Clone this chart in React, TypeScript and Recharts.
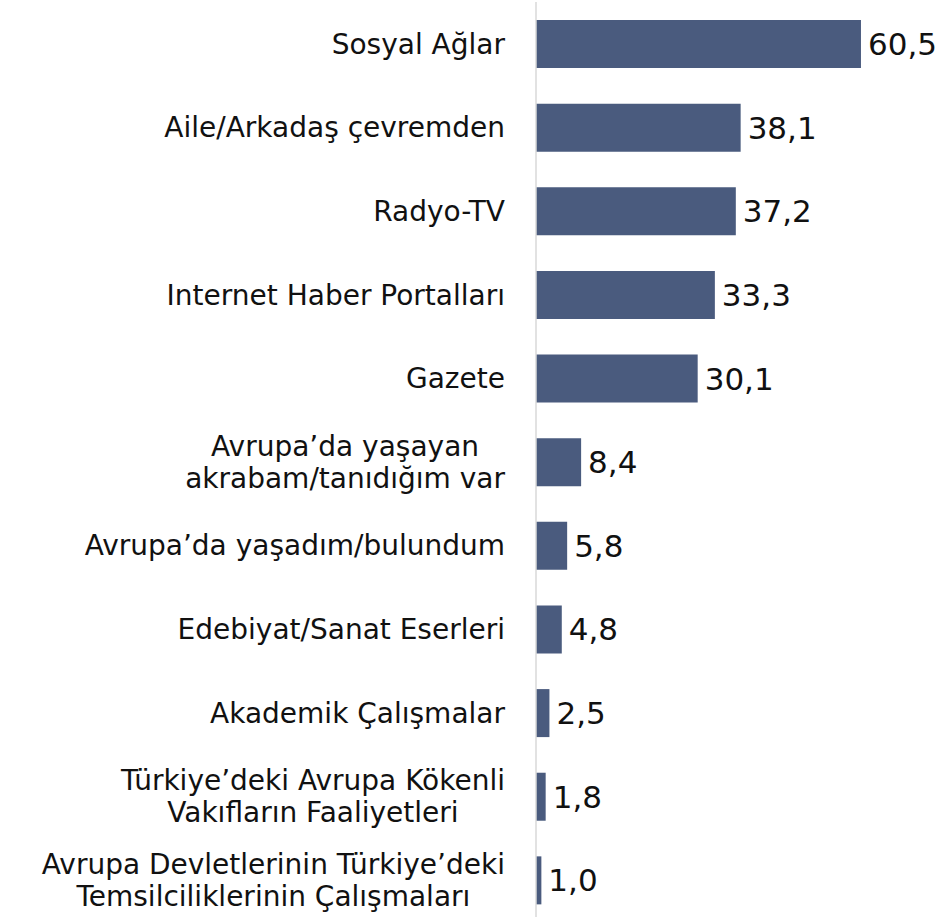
import React from "react";
import { BarChart, Bar, XAxis, YAxis, LabelList } from "recharts";

const CATEGORIES = [
  "Sosyal Ağlar",
  "Aile/Arkadaş çevremden",
  "Radyo-TV",
  "Internet Haber Portalları",
  "Gazete",
  "Avrupa’da yaşayan\nakrabam/tanıdığım var",
  "Avrupa’da yaşadım/bulundum",
  "Edebiyat/Sanat Eserleri",
  "Akademik Çalışmalar",
  "Türkiye’deki Avrupa Kökenli\nVakıfların Faaliyetleri",
  "Avrupa Devletlerinin Türkiye’deki\nTemsilciliklerinin Çalışmaları",
];

const VALUES = [60.5, 38.1, 37.2, 33.3, 30.1, 8.4, 5.8, 4.8, 2.5, 1.8, 1.0];

const data = CATEGORIES.map((name, i) => ({ name, value: VALUES[i] }));

const FONT = "'DejaVu Sans', Verdana, sans-serif";
const LABEL_SIZE = 28;
const VALUE_SIZE = 31;

let ctx: CanvasRenderingContext2D | null = null;
function measure(text: string) {
  if (!ctx) {
    const c = document.createElement("canvas");
    ctx = c.getContext("2d");
  }
  if (!ctx) return text.length * 16;
  ctx.font = `${LABEL_SIZE}px ${FONT}`;
  return ctx.measureText(text).width;
}

// multi-line labels: block right-aligned to the axis, lines centred in it
function CategoryTick({ x, y, payload }: any) {
  const lines: string[] = String(payload.value).split("\n");
  const maxW = Math.max(...lines.map(measure));
  const right = x - 23;
  const cx = right - maxW / 2;
  const lh = 32;
  const start = y - ((lines.length - 1) * lh) / 2;
  return (
    <text textAnchor="middle" fontFamily={FONT} fontSize={LABEL_SIZE} fill="#111">
      {lines.map((l, i) => (
        <tspan key={i} x={cx} y={start + i * lh} dy="0.35em">
          {l}
        </tspan>
      ))}
    </text>
  );
}

export default function App() {
  return (
    <div
      style={{
        position: "absolute",
        left: 0,
        top: 0,
        width: 948,
        height: 917,
        overflow: "hidden",
        background: "#fff",
      }}
    >
      <BarChart
        width={948}
        height={922}
        data={data}
        layout="vertical"
        margin={{ top: 2, right: 36, bottom: 0, left: 0 }}
        barSize={48}
      >
        <XAxis type="number" domain={[0, 70]} hide />
        <YAxis
          type="category"
          dataKey="name"
          width={536}
          axisLine={{ stroke: "#d9d9d9", strokeWidth: 1.5 }}
          tickLine={false}
          tick={<CategoryTick />}
          interval={0}
        />
        <Bar dataKey="value" fill="#4a5b7e" isAnimationActive={false}>
          <LabelList
            dataKey="value"
            position="right"
            offset={7}
            formatter={(v: any) => Number(v).toFixed(1).replace(".", ",")}
            style={{ fontFamily: FONT, fontSize: VALUE_SIZE, fill: "#111" }}
          />
        </Bar>
      </BarChart>
    </div>
  );
}
